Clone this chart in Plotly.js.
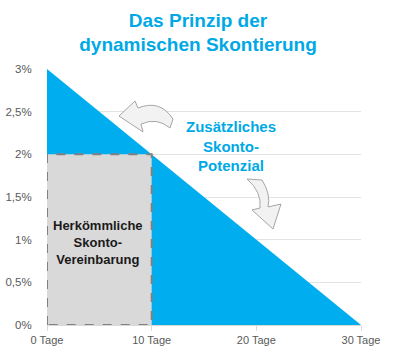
<!DOCTYPE html>
<html><head><meta charset="utf-8">
<script src="https://cdn.plot.ly/plotly-3.0.1.min.js"></script>
<style>html,body{margin:0;padding:0;background:#fff}#c{width:400px;height:357px}</style>
</head><body><div id="c"></div>
<script>
// Data
const days = [0, 30];
const skonto = [3, 0];               // dynamic discount line, %
const classicDays = [0, 0, 10, 10, 0];
const classicSkonto = [0, 2, 2, 0, 0]; // classic agreement box, %
const xTickVals = [0, 10, 20, 30];
const xTickText = ['0 Tage', '10 Tage', '20 Tage', '30 Tage'];
const yTickVals = [0, 0.5, 1, 1.5, 2, 2.5, 3];
const yTickText = ['0%', '0,5%', '1%', '1,5%', '2%', '2,5%', '3%'];

const L = 47, R = 361, T = 69, B = 325;
function px(x, y) { return ((x - L) / (R - L) * 30).toFixed(3) + ',' + ((B - y) / (B - T) * 3).toFixed(3); }
const arrow1 = 'M' + px(119,116) + ' L' + px(135,101) + ' L' + px(138,108) +
  ' Q' + px(160,99) + ' ' + px(173,119) + ' L' + px(170,128) +
  ' Q' + px(157,117) + ' ' + px(141,124) + ' L' + px(143,132) + ' Z';
const arrow2 = 'M' + px(247,179) + ' L' + px(262,180) + ' Q' + px(271,194) + ' ' + px(268,207) +
  ' L' + px(281,204) + ' L' + px(273,229) + ' L' + px(252,210) + ' L' + px(260,208) +
  ' Q' + px(262,192) + ' ' + px(247,179) + ' Z';

const traces = [
  {x: days, y: skonto, type: 'scatter', mode: 'lines', fill: 'tozeroy',
   fillcolor: '#00AEEF', line: {color: '#00AEEF', width: 0}, hoverinfo: 'skip'},
  {x: classicDays, y: classicSkonto, type: 'scatter', mode: 'lines', fill: 'toself',
   fillcolor: '#D9D9D9', line: {color: '#808080', width: 2, dash: 'dash'}, hoverinfo: 'skip'}
];

const layout = {
  width: 400, height: 357,
  margin: {l: L, r: 400 - R, t: T, b: 357 - B},
  paper_bgcolor: '#fff', plot_bgcolor: '#fff',
  showlegend: false,
  font: {family: 'Liberation Sans, Arial, sans-serif', color: '#595959'},
  title: {text: 'Das Prinzip der<br>dynamischen Skontierung', x: 0.495, xanchor: 'center', y: 0.925, yanchor: 'middle',
          font: {size: 19, color: '#00A9E6', family: 'Liberation Sans, Arial, sans-serif', weight: 'bold'}},
  xaxis: {range: [0, 30], tickvals: xTickVals, ticktext: xTickText, showgrid: false,
          zeroline: false, showline: true, linecolor: '#D9D9D9', ticks: 'outside', ticklen: 5,
          tickcolor: '#D9D9D9', tickfont: {size: 11, color: '#595959'}, fixedrange: true},
  yaxis: {range: [0, 3], tickvals: yTickVals, ticktext: yTickText, showgrid: true, gridcolor: '#E3E3E3',
          zeroline: false, tickfont: {size: 11.5, color: '#595959'}, ticklen: 12, ticks: 'outside',
          tickcolor: 'rgba(0,0,0,0)', fixedrange: true},
  shapes: [
    {type: 'path', path: arrow1, xref: 'x', yref: 'y', fillcolor: '#F2F2F2', line: {color: '#A6A6A6', width: 1}},
    {type: 'path', path: arrow2, xref: 'x', yref: 'y', fillcolor: '#F2F2F2', line: {color: '#A6A6A6', width: 1}}
  ],
  annotations: [
    {x: 17.6, y: 2.1, xref: 'x', yref: 'y', showarrow: false,
     text: '<b>Zusätzliches<br>Skonto-<br>Potenzial</b>',
     font: {size: 15, color: '#00A9E6'}},
    {x: 4.9, y: 0.97, xref: 'x', yref: 'y', showarrow: false,
     text: '<b>Herkömmliche<br>Skonto-<br>Vereinbarung</b>',
     font: {size: 13, color: '#1a1a1a'}}
  ]
};
Plotly.newPlot('c', traces, layout, {displayModeBar: false, staticPlot: true});
</script></body></html>
